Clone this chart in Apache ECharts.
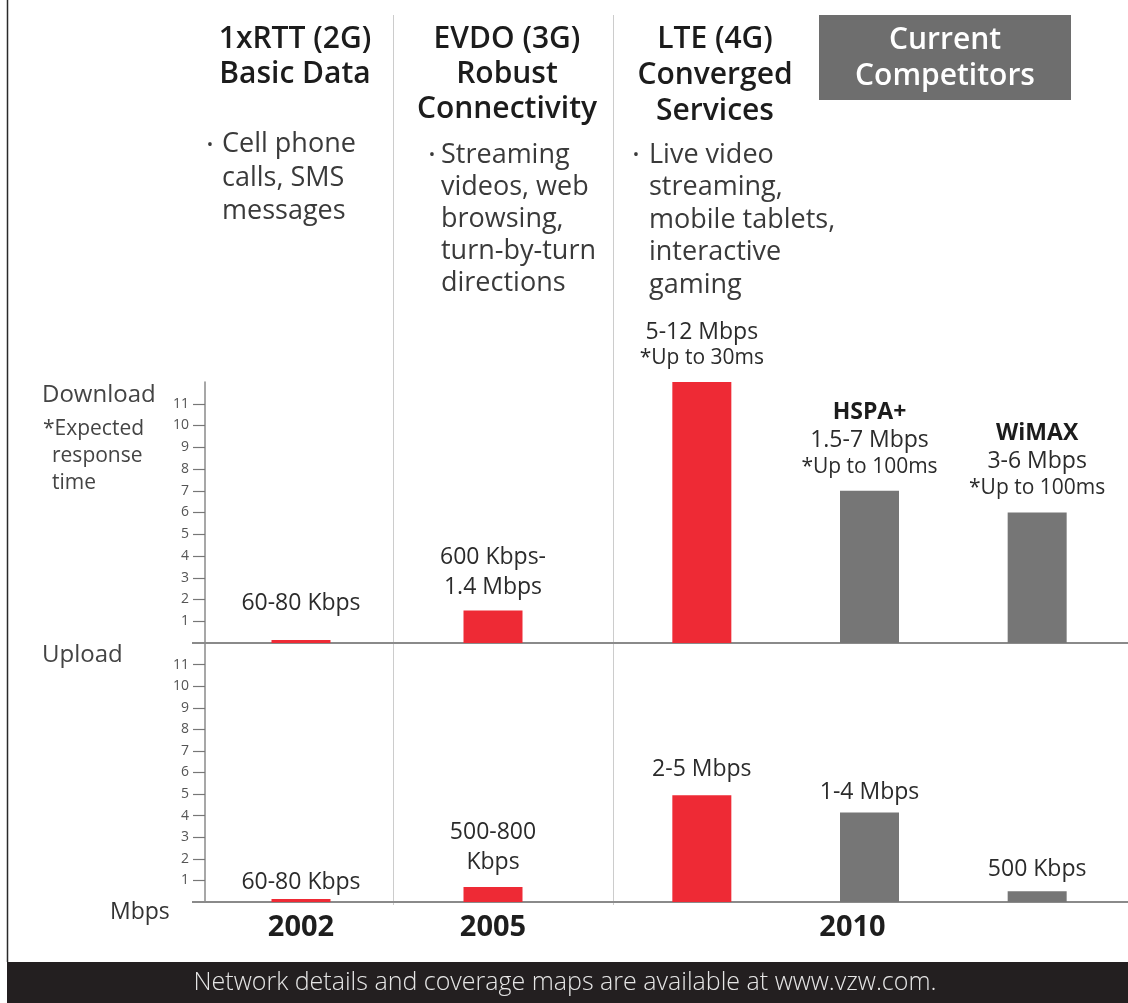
<!DOCTYPE html>
<html>
<head>
<meta charset="utf-8">
<script src="https://cdn.jsdelivr.net/npm/echarts@6/dist/echarts.min.js"></script>
<style>
  html, body { margin: 0; padding: 0; background: #ffffff; }
  #chart { width: 1128px; height: 1003px; }
</style>
</head>
<body>
<div id="chart"></div>
<script>
// ---------------- data ----------------
const categories = ['1xRTT (2G)', 'EVDO (3G)', 'LTE (4G)', 'HSPA+', 'WiMAX'];
const years = ['2002', '2005', '', '2010', ''];
const downloadMbps = [0.14, 1.5, 12, 7, 6];
const uploadMbps = [0.14, 0.7, 4.95, 4.15, 0.5];
const downloadRates = ['60-80 Kbps', '600 Kbps-\n1.4 Mbps', '5-12 Mbps', '1.5-7 Mbps', '3-6 Mbps'];
const responseTimes = ['', '', '*Up to 30ms', '*Up to 100ms', '*Up to 100ms'];
const uploadRates = ['60-80 Kbps', '500-800\nKbps', '2-5 Mbps', '1-4 Mbps', '500 Kbps'];
const isCompetitor = [false, false, false, true, true];
const yTicks = [1, 2, 3, 4, 5, 6, 7, 8, 9, 10, 11];

// ---------------- styles ----------------
const FONT = '"Open Sans", "Noto Sans", sans-serif';
const RED = '#ee2a35';
const GRAY = '#767676';
const downGap = [22, 8, 12, 12, 13];
const upGap = [2, 9, 11, 5, 7];

function labelText(i, rates, withExtras) {
  const parts = [];
  if (withExtras && isCompetitor[i]) parts.push('{n|' + categories[i] + '}');
  rates[i].split('\n').forEach(l => parts.push('{v|' + l + '}'));
  if (withExtras && responseTimes[i]) parts.push('{r|' + responseTimes[i] + '}');
  return parts.join('\n');
}

const rich = {
  n: { fontFamily: FONT, fontSize: 23, fontWeight: 'bold', color: '#1c1c1c', lineHeight: 27 },
  v: { fontFamily: FONT, fontSize: 23, color: '#2b2b2b', lineHeight: 30 },
  r: { fontFamily: FONT, fontSize: 21, color: '#2b2b2b', lineHeight: 23 }
};

function items(values, rates, gaps, withExtras, from, to) {
  const out = [];
  for (let i = from; i < to; i++) {
    out.push({
      value: values[i],
      itemStyle: { color: isCompetitor[i] ? GRAY : RED },
      label: {
        show: true,
        position: 'top',
        distance: gaps[i],
        formatter: labelText(i, rates, withExtras),
        rich: rich
      }
    });
  }
  return out;
}

const yAxisBase = (gridIndex, show) => ({
  type: 'value', gridIndex, min: 0, max: 12, interval: 1, show,
  splitLine: { show: false },
  axisLine: { show: true, lineStyle: { color: '#8a8a8a', width: 1.5 } },
  axisTick: { show: true, length: 12, customValues: yTicks, lineStyle: { color: '#777', width: 1.2 } },
  axisLabel: { customValues: yTicks, margin: 16, fontFamily: FONT, fontSize: 14, color: '#555', padding: [0, 0, 5, 0] }
});

const xAxisBase = (gridIndex, data, showLabels, offset, pad) => ({
  type: 'category', gridIndex, data,
  axisLine: { show: false }, axisTick: { show: false },
  axisLabel: {
    show: showLabels, interval: 0, margin: 11,
    fontFamily: FONT, fontSize: 29, fontWeight: 'bold', color: '#1e1e1e',
    padding: pad,
    formatter: (v, idx) => years[offset + idx]
  }
});

const chart = echarts.init(document.getElementById('chart'), null, { renderer: 'canvas' });

const option = {
  backgroundColor: '#ffffff',
  animation: false,
  grid: [
    { left: 205, top: 382, width: 384, height: 261 },
    { left: 618, top: 382, width: 503, height: 261 },
    { left: 205, top: 643, width: 384, height: 259 },
    { left: 618, top: 643, width: 503, height: 259 }
  ],
  xAxis: [
    xAxisBase(0, categories.slice(0, 2), false, 0, [0, 0, 0, 0]),
    xAxisBase(1, categories.slice(2), false, 2, [0, 0, 0, 0]),
    xAxisBase(2, categories.slice(0, 2), true, 0, [0, 0, 0, 0]),
    xAxisBase(3, categories.slice(2), true, 2, [0, 34, 0, 0])
  ],
  yAxis: [
    yAxisBase(0, true),
    yAxisBase(1, false),
    yAxisBase(2, true),
    yAxisBase(3, false)
  ],
  series: [
    { name: 'Download', type: 'bar', xAxisIndex: 0, yAxisIndex: 0, barWidth: 59, z: 3,
      data: items(downloadMbps, downloadRates, downGap, true, 0, 2) },
    { name: 'Download', type: 'bar', xAxisIndex: 1, yAxisIndex: 1, barWidth: 59, z: 3,
      data: items(downloadMbps, downloadRates, downGap, true, 2, 5) },
    { name: 'Upload', type: 'bar', xAxisIndex: 2, yAxisIndex: 2, barWidth: 59, z: 3,
      data: items(uploadMbps, uploadRates, upGap, false, 0, 2) },
    { name: 'Upload', type: 'bar', xAxisIndex: 3, yAxisIndex: 3, barWidth: 59, z: 3,
      data: items(uploadMbps, uploadRates, upGap, false, 2, 5) }
  ],
  graphic: [
    // frame
    { type: 'line', z: 1, shape: { x1: 7.5, y1: 0, x2: 7.5, y2: 962 }, style: { stroke: '#2a2a2a', lineWidth: 1.5 } },
    // separators
    { type: 'line', z: 1, shape: { x1: 393.5, y1: 15, x2: 393.5, y2: 905 }, style: { stroke: '#cccccc', lineWidth: 1 } },
    { type: 'line', z: 1, shape: { x1: 613.5, y1: 15, x2: 613.5, y2: 905 }, style: { stroke: '#cccccc', lineWidth: 1 } },
    // baselines
    { type: 'line', z: 2, shape: { x1: 192, y1: 643, x2: 1128, y2: 643 }, style: { stroke: '#8a8a8a', lineWidth: 2 } },
    { type: 'line', z: 2, shape: { x1: 192, y1: 902, x2: 1128, y2: 902 }, style: { stroke: '#8a8a8a', lineWidth: 2 } },
    // headers
    { type: 'text', style: { text: '1xRTT (2G)\nBasic Data', x: 295, y: 22, align: 'center', verticalAlign: 'top',
      font: '600 30px ' + FONT, lineHeight: 35, fill: '#1c1c1c' } },
    { type: 'text', style: { text: 'EVDO (3G)\nRobust\nConnectivity', x: 507, y: 22, align: 'center', verticalAlign: 'top',
      font: '600 30px ' + FONT, lineHeight: 35, fill: '#1c1c1c' } },
    { type: 'text', style: { text: 'LTE (4G)\nConverged\nServices', x: 715, y: 21, align: 'center', verticalAlign: 'top',
      font: '600 30px ' + FONT, lineHeight: 36, fill: '#1c1c1c' } },
    { type: 'rect', shape: { x: 819, y: 15, width: 252, height: 85 }, style: { fill: '#6e6e6e' } },
    { type: 'text', style: { text: 'Current\nCompetitors', x: 945, y: 22, align: 'center', verticalAlign: 'top',
      font: '600 30px ' + FONT, lineHeight: 36, fill: '#ffffff' } },
    // bullets
    { type: 'text', style: { text: '•', x: 210, y: 145, align: 'center', verticalAlign: 'middle', font: '17px ' + FONT, fill: '#3a3a3a' } },
    { type: 'text', style: { text: 'Cell phone\ncalls, SMS\nmessages', x: 222, y: 128, align: 'left', verticalAlign: 'top',
      font: '27px ' + FONT, lineHeight: 33.5, fill: '#3a3a3a' } },
    { type: 'text', style: { text: '•', x: 432, y: 155, align: 'center', verticalAlign: 'middle', font: '17px ' + FONT, fill: '#3a3a3a' } },
    { type: 'text', style: { text: 'Streaming\nvideos, web\nbrowsing,\nturn-by-turn\ndirections', x: 441, y: 139, align: 'left', verticalAlign: 'top',
      font: '27px ' + FONT, lineHeight: 32, fill: '#3a3a3a' } },
    { type: 'text', style: { text: '•', x: 636, y: 155, align: 'center', verticalAlign: 'middle', font: '17px ' + FONT, fill: '#3a3a3a' } },
    { type: 'text', style: { text: 'Live video\nstreaming,\nmobile tablets,\ninteractive\ngaming', x: 649, y: 139, align: 'left', verticalAlign: 'top',
      font: '27px ' + FONT, lineHeight: 32.5, fill: '#3a3a3a' } },
    // left labels
    { type: 'text', style: { text: 'Download', x: 42, y: 395, verticalAlign: 'middle', font: '24px ' + FONT, fill: '#444' } },
    { type: 'text', style: { text: '*Expected', x: 43, y: 429, verticalAlign: 'middle', font: '21px ' + FONT, fill: '#444' } },
    { type: 'text', style: { text: 'response', x: 52, y: 456, verticalAlign: 'middle', font: '21px ' + FONT, fill: '#444' } },
    { type: 'text', style: { text: 'time', x: 52, y: 483, verticalAlign: 'middle', font: '21px ' + FONT, fill: '#444' } },
    { type: 'text', style: { text: 'Upload', x: 42, y: 655, verticalAlign: 'middle', font: '24px ' + FONT, fill: '#444' } },
    { type: 'text', style: { text: 'Mbps', x: 110, y: 912, verticalAlign: 'middle', font: '23px ' + FONT, fill: '#333' } },
    // footer
    { type: 'rect', shape: { x: 7, y: 962, width: 1121, height: 41 }, style: { fill: '#231f20' } },
    { type: 'text', style: { text: 'Network details and coverage maps are available at www.vzw.com.', x: 565, y: 983,
      align: 'center', verticalAlign: 'middle', font: '300 25px ' + FONT, fill: '#e6e6e6' } }
  ]
};

chart.setOption(option);
</script>
</body>
</html>
